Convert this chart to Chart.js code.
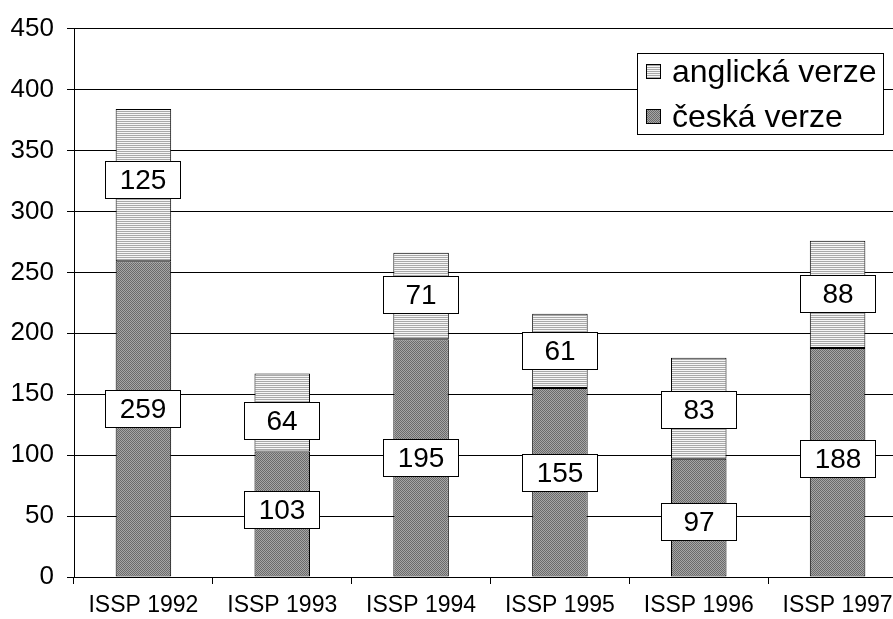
<!DOCTYPE html>
<html>
<head>
<meta charset="utf-8">
<script src="https://cdn.jsdelivr.net/npm/chart.js@4.4.0/dist/chart.umd.min.js"></script>
<style>
  html, body { margin: 0; padding: 0; background: #fff; overflow: hidden; }
  #wrap { width: 912px; height: 619px; }
</style>
</head>
<body>
<div id="wrap"><canvas id="c" width="912" height="619"></canvas></div>
<script>
// survey editions on the x axis
var categories = ['ISSP 1992', 'ISSP 1993', 'ISSP 1994', 'ISSP 1995', 'ISSP 1996', 'ISSP 1997'];
// stacked counts: Czech version at the bottom, English version on top
var ceskaVerze = [259, 103, 195, 155, 97, 188];
var anglickaVerze = [125, 64, 71, 61, 83, 88];
var seriesNames = ['česká verze', 'anglická verze'];
var yTicks = [0, 50, 100, 150, 200, 250, 300, 350, 400, 450];

var FONT = "Arial, 'Liberation Sans', sans-serif";

function makePattern(kind) {
  var pc = document.createElement('canvas');
  pc.width = 2; pc.height = 2;
  var g = pc.getContext('2d');
  if (kind === 'stripes') {
    g.fillStyle = '#f6f6f6'; g.fillRect(0, 0, 2, 1);
    g.fillStyle = '#a9a9a9'; g.fillRect(0, 1, 2, 1);
  } else {
    g.fillStyle = '#a6a6a6'; g.fillRect(0, 0, 2, 2);
    g.fillStyle = '#6a6a6a'; g.fillRect(0, 0, 1, 1); g.fillRect(1, 1, 1, 1);
  }
  return document.getElementById('c').getContext('2d').createPattern(pc, 'repeat');
}

var stripes = makePattern('stripes');
var checker = makePattern('checker');

// boxed value labels, drawn in the middle of each segment
var boxLabels = {
  id: 'boxLabels',
  afterDatasetsDraw: function (chart, args, opts) {
    var ctx = chart.ctx;
    ctx.save();
    ctx.font = '28px ' + FONT;
    ctx.textAlign = 'center';
    ctx.textBaseline = 'middle';
    chart.data.datasets.forEach(function (ds, di) {
      var meta = chart.getDatasetMeta(di);
      meta.data.forEach(function (bar, i) {
        var cx = Math.round(bar.x);
        var cy = Math.round((bar.y + bar.base) / 2 + (opts.shift[di][i] || 0));
        var w = 76, h = 38;
        ctx.fillStyle = '#fff';
        ctx.fillRect(cx - w / 2, cy - h / 2, w, h);
        ctx.strokeStyle = '#000';
        ctx.lineWidth = 1;
        ctx.strokeRect(cx - w / 2 + 0.5, cy - h / 2 + 0.5, w - 1, h - 1);
        ctx.fillStyle = '#000';
        ctx.fillText(String(ds.data[i]), cx, cy + 1);
      });
    });
    ctx.restore();
  }
};

// legend box inside the plot, top right
var boxLegend = {
  id: 'boxLegend',
  afterDraw: function (chart) {
    var ctx = chart.ctx;
    ctx.save();
    ctx.fillStyle = '#fff';
    ctx.fillRect(637, 53, 247, 82);
    ctx.strokeStyle = '#000';
    ctx.lineWidth = 1;
    ctx.strokeRect(637.5, 53.5, 246, 81);
    var items = [chart.data.datasets[1], chart.data.datasets[0]];
    ctx.font = '32px ' + FONT;
    ctx.textBaseline = 'middle';
    items.forEach(function (ds, k) {
      var y = 72 + k * 45;
      ctx.fillStyle = ds.backgroundColor;
      ctx.fillRect(646, y - 8, 15, 15);
      ctx.strokeStyle = '#000';
      ctx.strokeRect(646.5, y - 7.5, 14, 14);
      ctx.fillStyle = '#000';
      ctx.fillText(ds.label, 672, y + 1);
    });
    ctx.restore();
  }
};

new Chart(document.getElementById('c'), {
  type: 'bar',
  data: {
    labels: categories,
    datasets: [
      {
        label: seriesNames[0],
        data: ceskaVerze,
        backgroundColor: checker,
        borderColor: '#000',
        borderWidth: 1,
        borderSkipped: false,
        barPercentage: 0.4,
        categoryPercentage: 1
      },
      {
        label: seriesNames[1],
        data: anglickaVerze,
        backgroundColor: stripes,
        borderColor: '#000',
        borderWidth: 1,
        borderSkipped: false,
        barPercentage: 0.4,
        categoryPercentage: 1
      }
    ]
  },
  options: {
    responsive: false,
    animation: false,
    events: [],
    layout: { padding: { top: 28, right: 5, left: 0, bottom: 0 } },
    plugins: {
      legend: { display: false },
      tooltip: { enabled: false },
      boxLabels: { shift: [[-10, -4, 0, -9, 4, -3], [-5, 9, -1, 0, 2, 0]] }
    },
    scales: {
      x: {
        stacked: true,
        offset: true,
        afterFit: function (s) { s.height = 42; },
        grid: { offset: true, drawOnChartArea: false, drawTicks: true, tickLength: 7, color: '#000', lineWidth: 1 },
        border: { color: '#000', width: 1 },
        ticks: { color: '#000', font: { family: FONT, size: 23 }, padding: 8, maxRotation: 0, autoSkip: false }
      },
      y: {
        stacked: true,
        min: 0,
        max: 450,
        afterFit: function (s) { s.width = 74; },
        afterBuildTicks: function (s) { s.ticks = yTicks.map(function (v) { return { value: v }; }); },
        grid: { color: '#000', lineWidth: 1, tickLength: 7 },
        border: { color: '#000', width: 1 },
        ticks: { color: '#000', font: { family: FONT, size: 26 }, padding: 13 }
      }
    }
  },
  plugins: [boxLabels, boxLegend]
});
</script>
</body>
</html>
